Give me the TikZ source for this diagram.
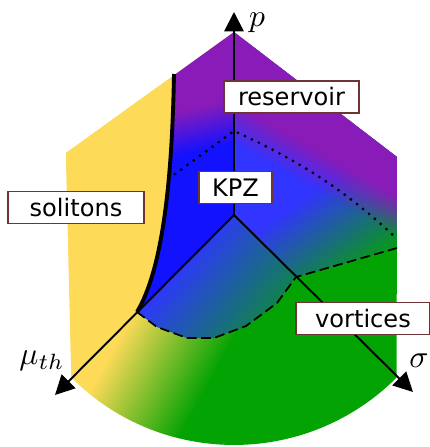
\documentclass[tikz,border=0pt]{standalone}
\usepackage{fontspec}
\newfontfamily\labelfont{DejaVu Sans}
\usetikzlibrary{arrows.meta,fadings}

\definecolor{solyellow}{RGB}{253,218,88}
\definecolor{respurple}{RGB}{137,28,184}
\definecolor{kpzblue}{RGB}{18,18,255}
\definecolor{kpzlight}{RGB}{50,52,255}
\definecolor{kpzmid}{RGB}{45,58,248}
\definecolor{vortgreen}{RGB}{4,163,4}
\definecolor{boxbrown}{RGB}{110,52,52}

% sfumatura lineare: punto iniziale, angolo, lunghezza, colore da, colore a
\newcommand{\gradfill}[5]{%
  \begin{scope}[transform canvas={shift={#1}, rotate=#2}]
    \fill[#4] (-800,-800) rectangle (#3,800);
    \fill[#5, path fading=west] (0,-800) rectangle (#3,800);
    \fill[#5] (#3-0.5,-800) rectangle (800,800);
  \end{scope}}

\begin{document}
\begin{tikzpicture}[x=0.02cm, y=0.02cm,
    labelbox/.style={draw=boxbrown, line width=0.9pt, fill=white, inner sep=0pt,
      font=\labelfont\fontsize{13.7}{16}\selectfont, minimum height=0.64cm},
    axislabel/.style={scale=1.8, inner sep=1pt},
    axisarrow/.style={line width=1.1pt, -{Triangle[length=11pt,width=11pt]}},
    dotline/.style={line width=1.8pt, dash pattern=on 0pt off 4.4pt, line cap=round},
    dashline/.style={line width=1pt, dash pattern=on 5.5pt off 2.6pt}]
\useasboundingbox (-234,-232) rectangle (196,215);

% Punti principali
\coordinate (O) at (0,0);
\coordinate (top) at (0,183);
\coordinate (ur) at (163,58);
\coordinate (lr) at (162.6,-162.6);
\coordinate (ul) at (-168,62);
\coordinate (c0) at (-60,141);
\coordinate (mu) at (-97,-97);
\coordinate (s) at (62,-62);
\coordinate (e) at (163,-33);
\coordinate (d1) at (-59,41);
\coordinate (d2) at (0,84);
\coordinate (d3) at (161,-22);
\coordinate (ptip) at (0,203);
\coordinate (mutip) at (-179,-180);
\coordinate (sigtip) at (179,-177);

% Regioni colorate
\begin{scope}
  \clip (top) -- (ur) -- (lr) arc[start angle=-45, end angle=-135, radius=4.6cm] -- (ul) -- cycle;
  \gradfill{(-126,-144)}{-28.7}{100}{solyellow}{vortgreen}
  \fill[solyellow] (c0) -- (-60,220) -- (-250,220) -- (-250,-250) -- (mu)
    .. controls (-72,-55) and (-62,30) .. (c0) -- cycle;
  \begin{scope}
    \clip (c0) -- (-60,220) -- (0,220) -- (O) -- (mu)
      .. controls (-72,-55) and (-62,30) .. (c0) -- cycle;
    \gradfill{(-29,110)}{-77}{44}{respurple}{kpzblue}
  \end{scope}
  \begin{scope}
    \clip (0,220) -- (O) -- (s) -- (e) -- (220,-33) -- (220,220) -- cycle;
    \gradfill{(66,15)}{-55}{100}{kpzlight}{vortgreen}
    \begin{scope}[transform canvas={shift={(16,103)}, rotate=-119.4}]
      \fill[respurple] (-800,-800) rectangle (0.5,800);
      \fill[respurple, path fading=east] (0,-800) rectangle (36,800);
    \end{scope}
  \end{scope}
  \begin{scope}
    \clip (O) -- (s) -- (43,-88) -- (12,-111) -- (-20,-123) -- (-47,-123) -- (-77,-112) -- (mu) -- cycle;
    \gradfill{(-39,-35)}{-40}{140}{kpzmid}{vortgreen}
  \end{scope}
\end{scope}

% Confini tra le fasi
\draw[line width=2.2pt] (c0) .. controls (-62,30) and (-72,-55) .. (mu);
\draw[dotline] (d1) -- (d2) .. controls (55,59) and (106,30) .. (d3);
\draw[dashline] (mu) -- (-77,-112) -- (-47,-123) -- (-20,-123) -- (12,-111) -- (43,-88) -- (s) -- (e);

% Assi
\draw[axisarrow] (O) -- (ptip);
\draw[axisarrow] (O) -- (mutip);
\draw[axisarrow] (O) -- (sigtip);
\node[axislabel] (plabel) at (23,192) {$p$};
\node[axislabel] (mulabel) at (-192,-146) {$\mu_{th}$};
\node[axislabel] (siglabel) at (185,-146) {$\sigma$};

% Etichette delle fasi
\node[labelbox, minimum width=2.7cm] (reservoir) at (57.5,118) {reservoir};
\node[labelbox, minimum width=1.46cm] (kpz) at (1.5,27.5) {KPZ};
\node[labelbox, minimum width=2.72cm] (solitons) at (-158,7.5) {solitons};
\node[labelbox, minimum width=2.68cm] (vortices) at (129,-103.5) {vortices};
\end{tikzpicture}
\end{document}
